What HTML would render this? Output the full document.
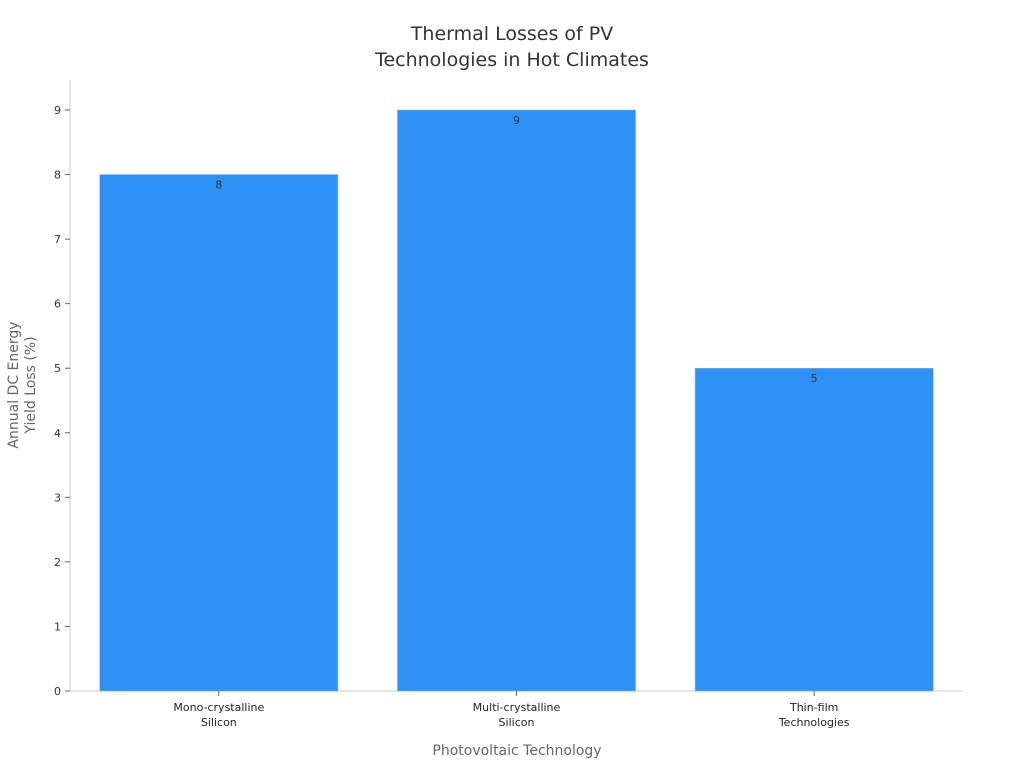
<!DOCTYPE html>
<html><head><meta charset="utf-8"><style>
body{margin:0;background:#fff;font-family:"Liberation Sans","DejaVu Sans",sans-serif}
svg text{font-family:"DejaVu Sans","Liberation Sans",sans-serif}
</style></head><body>
<svg id="chart" width="1024" height="768" xmlns="http://www.w3.org/2000/svg">
<text x="512" y="40" text-anchor="middle" font-size="19" fill="#333">Thermal Losses of PV</text>
<text x="512" y="66" text-anchor="middle" font-size="19" fill="#333">Technologies in Hot Climates</text>
<g id="plot"></g>
<text x="517" y="755" text-anchor="middle" font-size="14" fill="#666">Photovoltaic Technology</text>
<text transform="translate(18,385) rotate(-90)" text-anchor="middle" font-size="14" fill="#666">Annual DC Energy</text>
<text transform="translate(35,385) rotate(-90)" text-anchor="middle" font-size="14" fill="#666">Yield Loss (%)</text>
</svg>
<script>
const categories = [["Mono-crystalline","Silicon"],["Multi-crystalline","Silicon"],["Thin-film","Technologies"]];
const values = [8, 9, 5];
const yTicks = [0,1,2,3,4,5,6,7,8,9];
const NS="http://www.w3.org/2000/svg";
const g=document.getElementById('plot');
const x0=70,x1=963,yBase=691,yTop=80,unit=(691-110)/9;
const yS=v=>yBase-v*unit;
const band=(x1-x0)/categories.length;
const xS=i=>x0+band*i+band/2;
function mk(t,a){const e=document.createElementNS(NS,t);for(const k in a)e.setAttribute(k,a[k]);g.appendChild(e);return e;}
let e=mk('line',{x1:x0,y1:yTop,x2:x0,y2:yBase,stroke:'#ccc'});


e=mk('line',{x1:x0,y1:yBase,x2:x1,y2:yBase,stroke:'#ccc'});


yTicks.forEach(t=>{
  const tk=mk('line',{x1:x0-5,y1:yS(t),x2:x0,y2:yS(t),stroke:'#666'});
  
  
  const l=mk('text',{x:x0-9,y:yS(t)+4,'text-anchor':'end','font-size':11,fill:'#333'});
  l.textContent=t;
  
  
});
const bw=band*0.8;
values.forEach((v,i)=>{
  const b=mk('rect',{x:xS(i)-bw/2,y:yS(v),width:bw,height:yBase-yS(v),fill:'#2e91f8',stroke:'#7ab8fa','stroke-width':0.5});
  
  
  const vl=mk('text',{x:xS(i),y:yS(v)+14,'text-anchor':'middle','font-size':11,fill:'#333'});
  vl.textContent=v;
  
  
  const tk=mk('line',{x1:xS(i),y1:yBase,x2:xS(i),y2:yBase+5,stroke:'#666'});
  
  
  categories[i].forEach((s,j)=>{
    const c=mk('text',{x:xS(i),y:yBase+20+j*15,'text-anchor':'middle','font-size':11,fill:'#222'});
    c.textContent=s;
    
    
  });
});
</script>
</body></html>
